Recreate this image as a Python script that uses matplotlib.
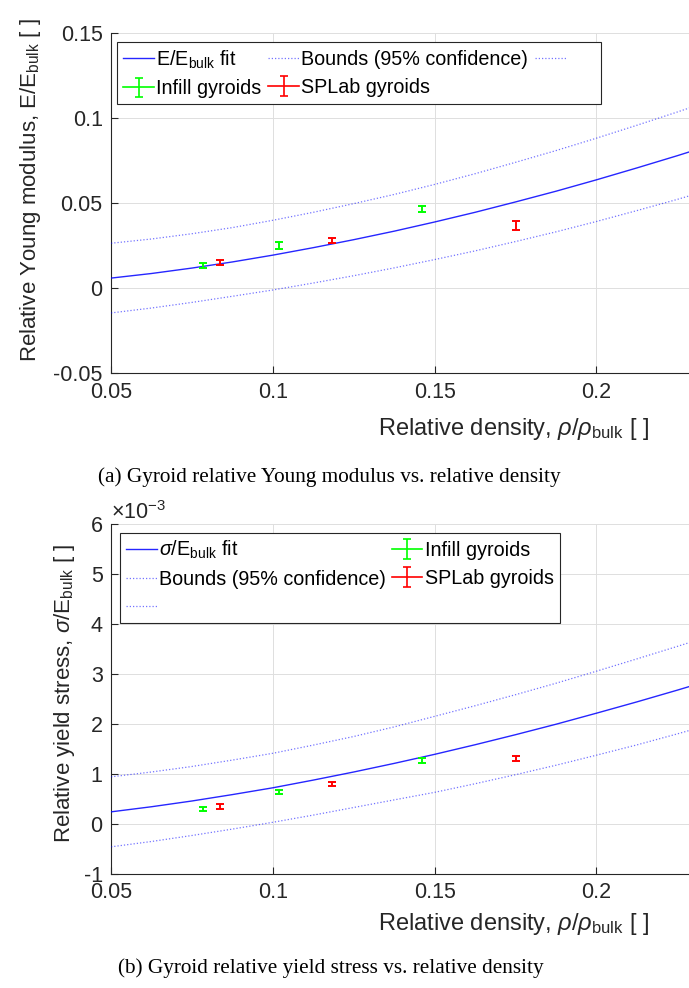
import numpy as np
import matplotlib
matplotlib.use("Agg")
import matplotlib.pyplot as plt
from matplotlib.lines import Line2D

plt.rcParams.update({
    "font.family": ["Liberation Sans", "DejaVu Sans"],
    "mathtext.fontset": "custom",
    "mathtext.rm": "Liberation Sans",
    "mathtext.it": "Liberation Sans:italic",
    "mathtext.bf": "Liberation Sans:bold",
    "mathtext.sf": "Liberation Sans",
    "axes.unicode_minus": False,
})

# ── data ───────────────────────────────────────────────────────────────────────
fit_rho = [0.05, 0.0625, 0.075, 0.0875, 0.1, 0.1125, 0.125, 0.1375,
           0.15, 0.1625, 0.175, 0.1875, 0.2, 0.2125, 0.225, 0.23]

# (a) relative Young modulus
E_fit   = [0.0060, 0.0087, 0.0119, 0.0155, 0.0195, 0.0239, 0.0286, 0.0336,
           0.0390, 0.0447, 0.0508, 0.0571, 0.0638, 0.0708, 0.0780, 0.0810]
E_upper = [0.0265, 0.0290, 0.0321, 0.0357, 0.0400, 0.0447, 0.0498, 0.0552,
           0.0611, 0.0674, 0.0741, 0.0810, 0.0883, 0.0959, 0.1037, 0.1069]
E_lower = [-0.0145, -0.0116, -0.0083, -0.0047, -0.0010, 0.0031, 0.0074, 0.0120,
           0.0169, 0.0220, 0.0275, 0.0332, 0.0393, 0.0457, 0.0523, 0.0551]

infill_rho   = [0.0783, 0.1019, 0.1461]
infill_E     = [0.0132, 0.0253, 0.0465]
infill_E_err = [0.0014, 0.0020, 0.0019]
splab_rho    = [0.0836, 0.1183, 0.1752]
splab_E      = [0.0151, 0.0279, 0.0369]
splab_E_err  = [0.0016, 0.0015, 0.0026]

# (b) relative yield stress, in units of 1e-3
S_fit   = [0.233, 0.335, 0.450, 0.578, 0.714, 0.868, 1.030, 1.202,
           1.383, 1.575, 1.776, 1.985, 2.206, 2.432, 2.667, 2.764]
S_upper = [0.933, 1.030, 1.140, 1.268, 1.404, 1.568, 1.740, 1.932,
           2.143, 2.355, 2.576, 2.805, 3.046, 3.292, 3.542, 3.644]
S_lower = [-0.467, -0.360, -0.240, -0.112, 0.024, 0.168, 0.320, 0.472,
           0.623, 0.795, 0.976, 1.165, 1.366, 1.572, 1.792, 1.884]

infill_S     = [0.287, 0.628, 1.257]
infill_S_err = [0.043, 0.040, 0.050]
splab_S      = [0.341, 0.789, 1.305]
splab_S_err  = [0.043, 0.037, 0.047]

x_ticks  = [0.05, 0.1, 0.15, 0.2]
x_labels = ["0.05", "0.1", "0.15", "0.2"]
E_ticks  = [-0.05, 0, 0.05, 0.1, 0.15]
E_labels = ["-0.05", "0", "0.05", "0.1", "0.15"]
S_ticks  = [-1, 0, 1, 2, 3, 4, 5, 6]
S_labels = ["-1", "0", "1", "2", "3", "4", "5", "6"]

# ── style ──────────────────────────────────────────────────────────────────────
AX_COL = "#262626"
BLUE   = "#0000ff"
GREEN  = "#00ff00"
RED    = "#ff0000"
FS_TICK, FS_XLAB, FS_YLAB, FS_LEG = 15.5, 17, 16, 14.2

W, H = 689, 988
fig = plt.figure(figsize=(W / 100, H / 100), dpi=100)

ax_a = fig.add_axes([111 / W, 1 - 373.3 / H, (W - 111) / W, 340 / H])
ax_b = fig.add_axes([111 / W, 1 - 873.5 / H, (W - 111) / W, 350 / H])


def draw_panel(ax, fit, up, lo, inf_y, inf_e, spl_y, spl_e):
    h_fit, = ax.plot(fit_rho, fit, color=BLUE, lw=1.0, alpha=0.85, zorder=3)
    h_up, = ax.plot(fit_rho, up, color=BLUE, lw=0.9, alpha=0.55,
                    linestyle=(0, (1, 1.6)), zorder=3)
    h_lo, = ax.plot(fit_rho, lo, color=BLUE, lw=0.9, alpha=0.55,
                    linestyle=(0, (1, 1.6)), zorder=3)
    ax.errorbar(infill_rho, inf_y, yerr=inf_e, fmt="none", ecolor=GREEN,
                elinewidth=1.4, capsize=2.6, capthick=1.4, zorder=4)
    ax.errorbar(splab_rho, spl_y, yerr=spl_e, fmt="none", ecolor=RED,
                elinewidth=1.4, capsize=2.6, capthick=1.4, zorder=4)
    # legend proxies: MATLAB-style errorbar symbol with a horizontal line
    h_inf = ax.errorbar([np.nan], [np.nan], yerr=[1.0], fmt="-", color=GREEN,
                        lw=1.2, elinewidth=1.2, capsize=3, capthick=1.2)
    h_spl = ax.errorbar([np.nan], [np.nan], yerr=[1.0], fmt="-", color=RED,
                        lw=1.2, elinewidth=1.2, capsize=3, capthick=1.2)

    ax.set_xlim(0.05, 0.05 + 0.05 * (W - 111) / 161.8)
    ax.set_xticks(x_ticks)
    ax.set_xticklabels(x_labels)
    ax.grid(True, color="#dedede", lw=0.7, zorder=0)
    ax.set_axisbelow(True)
    for s in ("top", "right"):
        ax.spines[s].set_visible(False)
    for s in ("left", "bottom"):
        ax.spines[s].set_color(AX_COL)
        ax.spines[s].set_linewidth(0.8)
    ax.tick_params(direction="in", length=5, width=0.8, color=AX_COL,
                   labelcolor=AX_COL, labelsize=FS_TICK, pad=6)
    ax.set_xlabel(r"Relative density, $\rho/\rho_{\mathrm{bulk}}$ [ ]",
                  fontsize=FS_XLAB, color=AX_COL, va="center")
    return h_fit, h_up, h_lo, h_inf, h_spl


blank = Line2D([], [], linestyle="none")
leg_kw = dict(loc="upper left", borderaxespad=0, fontsize=FS_LEG,
              handlelength=1.55, handletextpad=0.12, labelspacing=0.45,
              borderpad=0.3, fancybox=False, framealpha=1, edgecolor=AX_COL)

# ── (a) ───────────────────────────────────────────────────────────────────────
h = draw_panel(ax_a, E_fit, E_upper, E_lower, infill_E, infill_E_err, splab_E, splab_E_err)
ax_a.set_ylim(-0.05, 0.15)
ax_a.set_yticks(E_ticks)
ax_a.set_yticklabels(E_labels)
ax_a.set_ylabel(r"Relative Young modulus, E/E$_{\mathrm{bulk}}$ [ ]",
                fontsize=FS_YLAB, color=AX_COL)
ax_a.yaxis.set_label_coords(-0.118, 0.54)
ax_a.xaxis.set_label_coords(0.697, -0.165)
leg = ax_a.legend(
    [h[0], h[3], h[1], h[4], h[2], blank],
    [r"E/E$_{\mathrm{bulk}}$ fit", "Infill gyroids", "Bounds (95% confidence)",
     "SPLab gyroids", "     ", ""],
    ncol=3, bbox_to_anchor=(0.011, 0.9735), columnspacing=0.35, **leg_kw,
)
leg.get_frame().set_linewidth(0.8)

# ── (b) ───────────────────────────────────────────────────────────────────────
h = draw_panel(ax_b, S_fit, S_upper, S_lower, infill_S, infill_S_err, splab_S, splab_S_err)
ax_b.set_ylim(-1, 6)
ax_b.set_yticks(S_ticks)
ax_b.set_yticklabels(S_labels)
ax_b.set_ylabel(r"Relative yield stress, $\sigma$/E$_{\mathrm{bulk}}$ [ ]",
                fontsize=FS_YLAB, color=AX_COL)
ax_b.yaxis.set_label_coords(-0.059, 0.516)
ax_b.xaxis.set_label_coords(0.697, -0.145)
ax_b.text(0.0, 1.012, r"$\times$10$^{-3}$", transform=ax_b.transAxes,
          fontsize=FS_TICK, color=AX_COL, ha="left", va="baseline")
leg = ax_b.legend(
    [h[0], h[1], h[2], h[3], h[4], blank],
    [r"$\sigma$/E$_{\mathrm{bulk}}$ fit", "Bounds (95% confidence)", "",
     "Infill gyroids", "SPLab gyroids", ""],
    ncol=2, bbox_to_anchor=(0.0156, 0.9733), columnspacing=0.3, **leg_kw,
)
leg.get_frame().set_linewidth(0.8)

# ── captions ──────────────────────────────────────────────────────────────────
fig.text(329 / W, 1 - 477 / H, "(a) Gyroid relative Young modulus vs. relative density",
         family="Liberation Serif", fontsize=15.3, ha="center", va="center")
fig.text(331 / W, 1 - 968 / H, "(b) Gyroid relative yield stress vs. relative density",
         family="Liberation Serif", fontsize=15.3, ha="center", va="center")

fig.savefig("out.png", dpi=100)
